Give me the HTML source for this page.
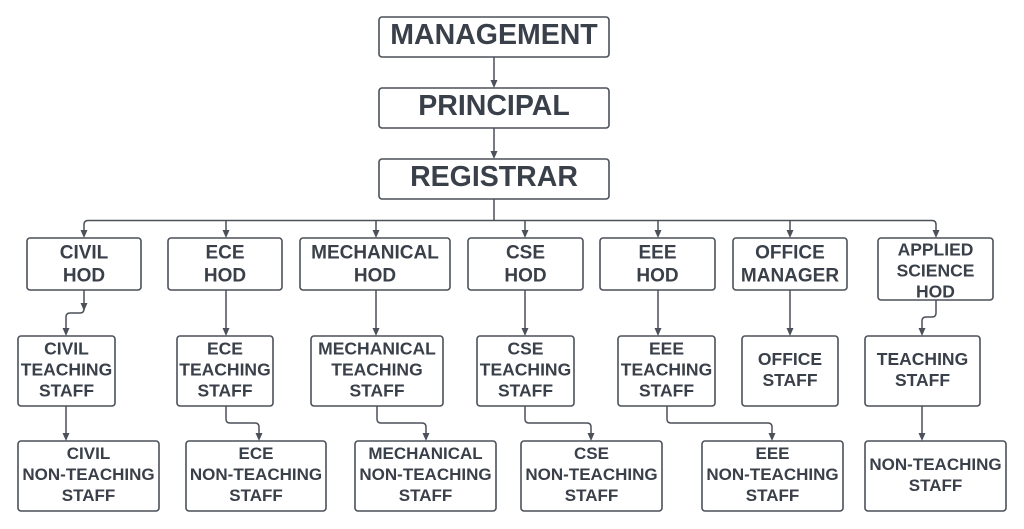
<!DOCTYPE html>
<html>
<head>
<meta charset="utf-8">
<style>
html,body{margin:0;padding:0;background:#fff;}
svg{display:block;}
text{font-family:"Liberation Sans",Arial,sans-serif;font-weight:bold;fill:#3a4049;text-anchor:middle;}
.b{fill:#fff;stroke:#4b5059;stroke-width:1.6;}
.l{fill:none;stroke:#4b5059;stroke-width:1.5;stroke-linejoin:round;}
.a{fill:#4b5059;}
</style>
</head>
<body>
<svg width="1024" height="529" viewBox="0 0 1024 529" xmlns="http://www.w3.org/2000/svg">
<defs>
<marker id="ar" markerWidth="8" markerHeight="9" refX="4" refY="8" orient="auto-start-reverse" markerUnits="userSpaceOnUse" viewBox="0 0 8 9">
<path d="M0.5,0 L7.5,0 L4,8.5 Z" class="a" transform="rotate(-90 4 4.5)"/>
</marker>
</defs>

<!-- connectors -->
<g class="l">
<path d="M494,57 V80"/>
<path d="M494,128 V151"/>
<path d="M494,199 V220.5"/>
<path d="M88,220.5 H932 Q936,220.5 936,224.5 V230"/>
<path d="M88,220.5 Q84,220.5 84,224.5 V230"/>
<path d="M226,220.5 V230"/>
<path d="M376,220.5 V230"/>
<path d="M525,220.5 V230"/>
<path d="M658,220.5 V230"/>
<path d="M790,220.5 V230"/>

<path d="M84,290 V309 Q84,313 80,313 H70 Q66,313 66,317 V328"/>
<path d="M226,290 V328"/>
<path d="M376,290 V328"/>
<path d="M525,290 V328"/>
<path d="M658,290 V328"/>
<path d="M790,290 V328"/>
<path d="M936,300 V313 Q936,317 932,317 H926 Q922,317 922,321 V328"/>

<path d="M66,406 V433"/>
<path d="M226,406 V419 Q226,423 230,423 H255 Q259,423 259,427 V433"/>
<path d="M377,406 V419 Q377,423 381,423 H422 Q426,423 426,427 V433"/>
<path d="M525,406 V419 Q525,423 529,423 H587 Q591,423 591,427 V433"/>
<path d="M667,406 V419 Q667,423 671,423 H768 Q772,423 772,427 V433"/>
<path d="M922,406 V433"/>
</g>

<!-- arrowheads -->
<g class="a">
<path d="M490.5,80 H497.5 L494,88 Z"/>
<path d="M490.5,151 H497.5 L494,159 Z"/>
<path d="M80.5,230 H87.5 L84,238 Z"/>
<path d="M222.5,230 H229.5 L226,238 Z"/>
<path d="M372.5,230 H379.5 L376,238 Z"/>
<path d="M521.5,230 H528.5 L525,238 Z"/>
<path d="M654.5,230 H661.5 L658,238 Z"/>
<path d="M786.5,230 H793.5 L790,238 Z"/>
<path d="M932.5,230 H939.5 L936,238 Z"/>

<path d="M80.5,303 H87.5 L84,311 Z"/>
<path d="M62.5,328 H69.5 L66,336 Z"/>
<path d="M222.5,328 H229.5 L226,336 Z"/>
<path d="M372.5,328 H379.5 L376,336 Z"/>
<path d="M521.5,328 H528.5 L525,336 Z"/>
<path d="M654.5,328 H661.5 L658,336 Z"/>
<path d="M786.5,328 H793.5 L790,336 Z"/>
<path d="M918.5,328 H925.5 L922,336 Z"/>

<path d="M62.5,433 H69.5 L66,441 Z"/>
<path d="M255.5,433 H262.5 L259,441 Z"/>
<path d="M422.5,433 H429.5 L426,441 Z"/>
<path d="M587.5,433 H594.5 L591,441 Z"/>
<path d="M768.5,433 H775.5 L772,441 Z"/>
<path d="M918.5,433 H925.5 L922,441 Z"/>
</g>

<!-- top boxes -->
<rect class="b" x="379" y="17" width="230" height="40" rx="3"/>
<text x="494" y="44" font-size="28.5">MANAGEMENT</text>
<rect class="b" x="379" y="88" width="230" height="40" rx="3"/>
<text x="494" y="115" font-size="28.5">PRINCIPAL</text>
<rect class="b" x="379" y="159" width="230" height="40" rx="3"/>
<text x="494" y="186" font-size="28.5">REGISTRAR</text>

<!-- HOD row -->
<g font-size="19">
<rect class="b" x="27" y="238" width="114" height="52" rx="3"/>
<text x="84" y="258.5">CIVIL</text><text x="84" y="281.5">HOD</text>
<rect class="b" x="168" y="238" width="114" height="52" rx="3"/>
<text x="225" y="258.5">ECE</text><text x="225" y="281.5">HOD</text>
<rect class="b" x="300" y="238" width="150" height="52" rx="3"/>
<text x="375" y="258.5">MECHANICAL</text><text x="375" y="281.5">HOD</text>
<rect class="b" x="468" y="238" width="115" height="52" rx="3"/>
<text x="525.5" y="258.5">CSE</text><text x="525.5" y="281.5">HOD</text>
<rect class="b" x="600" y="238" width="115" height="52" rx="3"/>
<text x="657.5" y="258.5">EEE</text><text x="657.5" y="281.5">HOD</text>
<rect class="b" x="733" y="238" width="114" height="52" rx="3"/>
<text x="790" y="258.5">OFFICE</text><text x="790" y="281.5">MANAGER</text>
</g>
<g font-size="17.5">
<rect class="b" x="878" y="238" width="115" height="62" rx="3"/>
<text x="935.5" y="255.7">APPLIED</text><text x="935.5" y="276.7">SCIENCE</text><text x="935.5" y="297.3">HOD</text>
</g>

<!-- teaching row -->
<g font-size="17.5">
<rect class="b" x="18" y="336" width="97" height="70" rx="3"/>
<text x="66.5" y="354.5">CIVIL</text><text x="66.5" y="375.7">TEACHING</text><text x="66.5" y="396.7">STAFF</text>
<rect class="b" x="177" y="336" width="96" height="70" rx="3"/>
<text x="225" y="354.5">ECE</text><text x="225" y="375.7">TEACHING</text><text x="225" y="396.7">STAFF</text>
<rect class="b" x="311" y="336" width="132" height="70" rx="3"/>
<text x="377" y="354.5">MECHANICAL</text><text x="377" y="375.7">TEACHING</text><text x="377" y="396.7">STAFF</text>
<rect class="b" x="477" y="336" width="97" height="70" rx="3"/>
<text x="525.5" y="354.5">CSE</text><text x="525.5" y="375.7">TEACHING</text><text x="525.5" y="396.7">STAFF</text>
<rect class="b" x="618" y="336" width="97" height="70" rx="3"/>
<text x="666.5" y="354.5">EEE</text><text x="666.5" y="375.7">TEACHING</text><text x="666.5" y="396.7">STAFF</text>
<rect class="b" x="742" y="336" width="96" height="70" rx="3"/>
<text x="790" y="365">OFFICE</text><text x="790" y="386">STAFF</text>
<rect class="b" x="865" y="336" width="115" height="70" rx="3"/>
<text x="922.5" y="365">TEACHING</text><text x="922.5" y="386">STAFF</text>
</g>

<!-- non-teaching row -->
<g font-size="17">
<rect class="b" x="18" y="441" width="141" height="70" rx="3"/>
<text x="88.5" y="459">CIVIL</text><text x="88.5" y="480">NON-TEACHING</text><text x="88.5" y="501">STAFF</text>
<rect class="b" x="186" y="441" width="140" height="70" rx="3"/>
<text x="256" y="459">ECE</text><text x="256" y="480">NON-TEACHING</text><text x="256" y="501">STAFF</text>
<rect class="b" x="355" y="441" width="141" height="70" rx="3"/>
<text x="425.5" y="459">MECHANICAL</text><text x="425.5" y="480">NON-TEACHING</text><text x="425.5" y="501">STAFF</text>
<rect class="b" x="521" y="441" width="141" height="70" rx="3"/>
<text x="591.5" y="459">CSE</text><text x="591.5" y="480">NON-TEACHING</text><text x="591.5" y="501">STAFF</text>
<rect class="b" x="702" y="441" width="141" height="70" rx="3"/>
<text x="772.5" y="459">EEE</text><text x="772.5" y="480">NON-TEACHING</text><text x="772.5" y="501">STAFF</text>
<rect class="b" x="865" y="441" width="141" height="70" rx="3"/>
<text x="935.5" y="470">NON-TEACHING</text><text x="935.5" y="491">STAFF</text>
</g>
</svg>
</body>
</html>
